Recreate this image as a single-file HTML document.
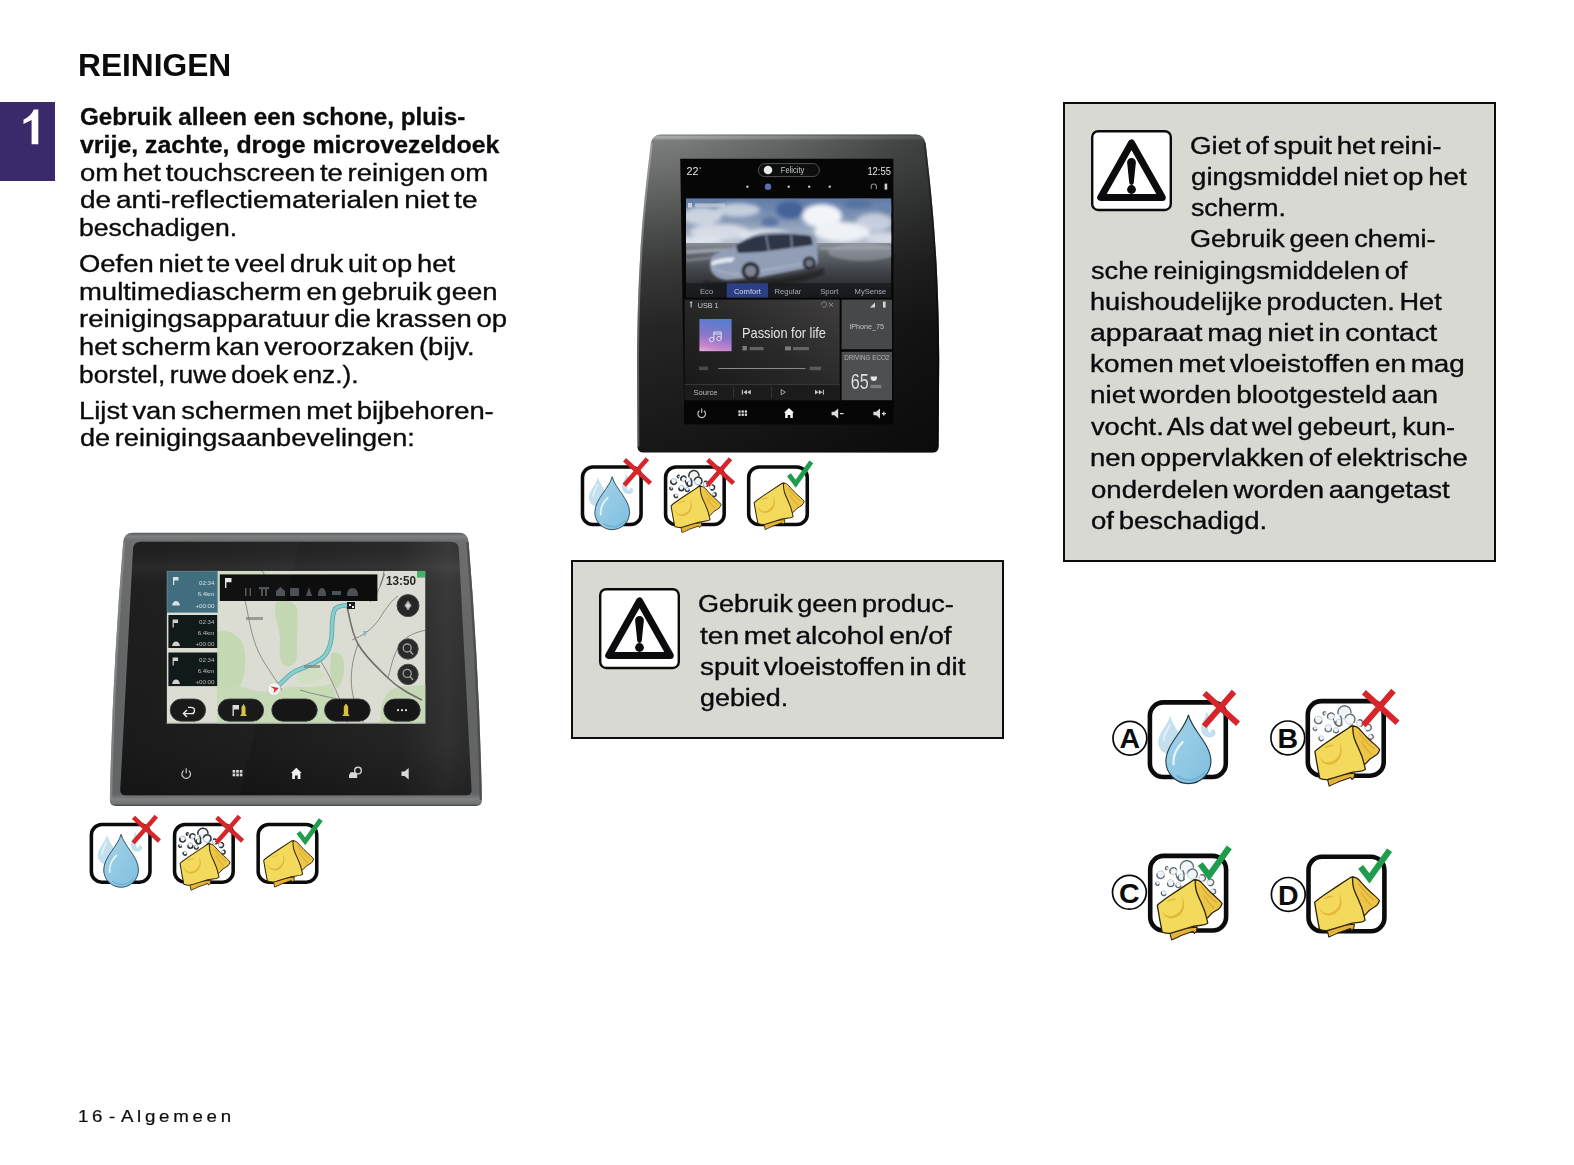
<!DOCTYPE html>
<html lang="nl">
<head>
<meta charset="utf-8">
<title>Reinigen</title>
<style>
html,body{margin:0;padding:0;background:#fff}
body{width:1574px;height:1165px;overflow:hidden;font-family:"Liberation Sans",sans-serif;color:#0b0b0d}
#page{position:relative;width:1574px;height:1165px;background:#fff;overflow:hidden}
.t{position:absolute;white-space:pre;font-size:23.5px;line-height:23.5px;transform-origin:0 0;color:#0b0b0d;-webkit-text-stroke:.35px #0b0b0d;word-spacing:-2.5px}
.t.b{font-weight:bold;word-spacing:0;-webkit-text-stroke:.3px #0b0b0d}
.t.h{word-spacing:0;font-size:31px;line-height:31px;font-weight:bold;-webkit-text-stroke:0}
.tab{position:absolute;left:0;top:102px;width:55px;height:78.5px;background:#3b2a6b}
.box{position:absolute;background:#d8d9d2;border:2px solid #0d0d0d}
.foot{position:absolute;left:77.6px;top:1107px;font-size:17px;line-height:20px;letter-spacing:3.38px;word-spacing:-5.5px;white-space:pre;color:#0b0b0d;transform:scaleX(1.1);transform-origin:0 0;-webkit-text-stroke:.2px #0b0b0d}
svg{position:absolute;left:0;top:0;overflow:visible}

</style>
</head>
<body>
<div id="page">
<div class="tab"><svg width="55" height="79" viewBox="0 102 55 79" aria-label="1"><path d="M33.8 109.6 L38.3 109.6 L38.3 144.2 L31.6 144.2 L31.6 119.9 L23.5 123.9 L23.5 119.8 C28.2 117.6 31.9 114 33.8 109.6 Z" fill="#fff"/></svg></div>
<div class="box" style="left:570.8px;top:560px;width:429.2px;height:175px"></div>
<div class="box" style="left:1063px;top:102px;width:429.3px;height:456px"></div>
<svg width="1574" height="1165" viewBox="0 0 1574 1165">
<defs>
<g id="warn">
<rect x="1.2" y="1.2" width="78.6" height="78.8" rx="6" ry="6" fill="#fff" stroke="#0b0b0d" stroke-width="2.4"/>
<path d="M40.5 13 L9.7 67.5 L71.3 67.5 Z" fill="#fff" stroke="#0b0b0d" stroke-width="7" stroke-linejoin="round"/>
<path d="M36.1 32.3 a4.4 4.4 0 0 1 8.8 0 L42.8 52.6 a2.3 2.3 0 0 1 -4.6 0 Z" fill="#0b0b0d"/>
<circle cx="40.5" cy="59.5" r="4.4" fill="#0b0b0d"/>
</g>
</defs>
<use href="#warn" x="599" y="588"/>
<use href="#warn" x="1091" y="130"/>
</svg>

<div class="t h" style="left:77.96px;top:49.86px;transform:scaleX(1.0221)">REINIGEN</div>
<div class="t b" style="left:80.00px;top:106.01px;transform:scaleX(1.0317)">Gebruik alleen een schone, pluis-</div>
<div class="t b" style="left:80.00px;top:134.01px;transform:scaleX(1.0596)">vrije, zachte, droge microvezeldoek</div>
<div class="t" style="left:80.00px;top:161.91px;transform:scaleX(1.1681)">om het touchscreen te reinigen om</div>
<div class="t" style="left:80.00px;top:189.01px;transform:scaleX(1.1921)">de anti-reflectiematerialen niet te</div>
<div class="t" style="left:78.87px;top:217.01px;transform:scaleX(1.1306)">beschadigen.</div>
<div class="t" style="left:78.83px;top:253.21px;transform:scaleX(1.1672)">Oefen niet te veel druk uit op het</div>
<div class="t" style="left:78.83px;top:280.51px;transform:scaleX(1.1680)">multimediascherm en gebruik geen</div>
<div class="t" style="left:78.83px;top:308.31px;transform:scaleX(1.1691)">reinigingsapparatuur die krassen op</div>
<div class="t" style="left:78.84px;top:336.01px;transform:scaleX(1.1600)">het scherm kan veroorzaken (bijv.</div>
<div class="t" style="left:78.88px;top:363.81px;transform:scaleX(1.1193)">borstel, ruwe doek enz.).</div>
<div class="t" style="left:78.83px;top:399.51px;transform:scaleX(1.1659)">Lijst van schermen met bijbehoren-</div>
<div class="t" style="left:80.00px;top:427.01px;transform:scaleX(1.1537)">de reinigingsaanbevelingen:</div>
<div class="t" style="left:698.35px;top:593.21px;transform:scaleX(1.1502)">Gebruik geen produc-</div>
<div class="t" style="left:699.50px;top:624.51px;transform:scaleX(1.1940)">ten met alcohol en/of</div>
<div class="t" style="left:699.50px;top:655.81px;transform:scaleX(1.1892)">spuit vloeistoffen in dit</div>
<div class="t" style="left:699.50px;top:687.21px;transform:scaleX(1.1433)">gebied.</div>
<div class="t" style="left:1190.02px;top:135.01px;transform:scaleX(1.1790)">Giet of spuit het reini-</div>
<div class="t" style="left:1191.20px;top:166.21px;transform:scaleX(1.1770)">gingsmiddel niet op het</div>
<div class="t" style="left:1191.20px;top:197.41px;transform:scaleX(1.1348)">scherm.</div>
<div class="t" style="left:1190.05px;top:228.41px;transform:scaleX(1.1519)">Gebruik geen chemi-</div>
<div class="t" style="left:1090.90px;top:259.61px;transform:scaleX(1.1578)">sche reinigingsmiddelen of</div>
<div class="t" style="left:1089.75px;top:290.81px;transform:scaleX(1.1546)">huishoudelijke producten. Het</div>
<div class="t" style="left:1089.69px;top:322.01px;transform:scaleX(1.2111)">apparaat mag niet in contact</div>
<div class="t" style="left:1089.71px;top:352.81px;transform:scaleX(1.1858)">komen met vloeistoffen en mag</div>
<div class="t" style="left:1089.71px;top:384.41px;transform:scaleX(1.1879)">niet worden blootgesteld aan</div>
<div class="t" style="left:1090.90px;top:415.91px;transform:scaleX(1.1595)">vocht. Als dat wel gebeurt, kun-</div>
<div class="t" style="left:1089.73px;top:447.11px;transform:scaleX(1.1695)">nen oppervlakken of elektrische</div>
<div class="t" style="left:1090.90px;top:478.51px;transform:scaleX(1.1725)">onderdelen worden aangetast</div>
<div class="t" style="left:1090.90px;top:509.81px;transform:scaleX(1.1711)">of beschadigd.</div>
<div class="foot">16 - Algemeen</div>
<svg width="1574" height="1165" viewBox="0 0 1574 1165">
<defs>
<linearGradient id="d1f" x1="0" y1="0" x2="0" y2="1">
<stop offset="0" stop-color="#58595a"/><stop offset=".012" stop-color="#7e8081"/><stop offset=".03" stop-color="#6c6e6f"/>
<stop offset=".5" stop-color="#626465"/><stop offset=".955" stop-color="#626465"/><stop offset=".975" stop-color="#7e8081"/><stop offset=".992" stop-color="#707273"/><stop offset="1" stop-color="#404142"/>
</linearGradient>
<linearGradient id="d1p" x1="0" y1="0" x2="1" y2="0">
<stop offset="0" stop-color="#1b1a1a"/><stop offset=".35" stop-color="#201f1f"/><stop offset=".8" stop-color="#2b2a2a"/><stop offset=".93" stop-color="#3a3939"/><stop offset="1" stop-color="#333232"/>
</linearGradient>
<linearGradient id="d1pv" x1="0" y1="0" x2="0" y2="1">
<stop offset="0" stop-color="#000" stop-opacity=".0"/><stop offset=".1" stop-color="#fff" stop-opacity=".05"/><stop offset=".2" stop-color="#000" stop-opacity="0"/><stop offset=".8" stop-color="#000" stop-opacity=".15"/><stop offset="1" stop-color="#000" stop-opacity=".35"/>
</linearGradient>
<clipPath id="d1s"><rect x="167" y="571" width="258.4" height="152.4"/></clipPath>
<filter id="bl1" x="-5%" y="-5%" width="110%" height="110%"><feGaussianBlur stdDeviation=".55"/></filter>
<filter id="bl2" x="-5%" y="-5%" width="110%" height="110%"><feGaussianBlur stdDeviation="1.6"/></filter>
</defs>
<!-- frame -->
<path d="M133 532.800 L458.800 532.800 Q467.900 532.800 468.600 542 Q479.300 671 481.900 800 Q482.200 806 476.100 806 L115.700 806 Q109.600 806 109.900 800 Q112.500 671 123.200 542 Q123.900 532.800 133 532.800 Z" fill="url(#d1f)"/>
<path d="M123.200 542 Q112.500 671 109.900 800 L112.200 800 Q114.800 671 125.500 542 Z" fill="#8c8e8f" opacity=".7"/>
<path d="M468.600 542 Q479.300 671 481.900 800 L479.600 800 Q477 671 466.300 542 Z" fill="#474849" opacity=".8"/>
<!-- dark panel -->
<path d="M141 541.800 L450.800 541.800 Q458.300 541.800 458.800 549 L471.500 790 Q471.700 795.300 466.200 795.300 L125.600 795.300 Q120.100 795.300 120.300 790 L133 549 Q133.500 541.800 141 541.800 Z" fill="url(#d1p)"/>
<path d="M141 541.800 L450.800 541.800 Q458.300 541.800 458.800 549 L471.500 790 Q471.700 795.300 466.200 795.300 L125.600 795.300 Q120.100 795.300 120.300 790 L133 549 Q133.500 541.800 141 541.800 Z" fill="url(#d1pv)"/>
<!-- screen -->
<rect x="166.600" y="570.800" width="258.800" height="153" fill="#5b5d5c"/>
<g clip-path="url(#d1s)" filter="url(#bl1)">
<rect x="167" y="571" width="258.4" height="152.4" fill="#dcddd2"/>
<!-- green areas -->
<path d="M276 603 C283 598 293 601 297 608 C299 622 296 640 297 652 C298 662 292 668 286 666 C279 664 279 650 280 640 C280 626 272 612 276 603 Z" fill="#c3d8b2"/>
<path d="M217 632 C226 628 238 634 243 644 C247 658 246 674 240 686 L217 690 Z" fill="#c3d8b2"/>
<path d="M217 690 L240 686 C252 690 262 694 275 690 C290 684 310 690 330 684 C336 690 338 700 336 724 L217 724 Z" fill="#c6dab6"/>
<path d="M331 654 C337 650 343 654 344 662 C345 672 343 682 338 688 C332 686 330 676 330 668 Z" fill="#c3d8b2"/>
<path d="M300 668 C310 664 322 668 324 676 C318 684 306 686 298 682 Z" fill="#cfdfc2"/>
<path d="M390 690 C400 684 414 688 426 684 L426 724 L380 724 C380 710 382 698 390 690 Z" fill="#c6d8b6"/>
<path d="M217 571 L270 571 C268 580 262 590 250 596 C238 600 226 598 217 602 Z" fill="#cfdcc0"/>
<!-- roads -->
<g fill="none" stroke="#8b8c88" stroke-width="1">
<path d="M244 596 C248 612 250 630 256 646 C262 662 274 676 282 690"/>
<path d="M347 606 C350 620 352 634 358 644 C366 658 378 668 388 678 C398 688 410 694 422 700" stroke="#6f706d" stroke-width="1.6"/>
<path d="M352 640 C362 636 372 630 380 618 C386 608 392 600 398 596"/>
<path d="M388 678 C392 664 394 650 404 640 C410 634 418 632 426 630"/>
<path d="M320 660 C328 672 334 686 340 700 C344 710 346 718 348 724"/>
<path d="M358 644 C352 660 350 676 352 690 C354 704 360 714 364 724"/>
<path d="M262 571 C268 580 276 588 288 592 C300 596 320 594 334 598"/>
<path d="M384 571 C382 584 378 594 370 602"/>
<path d="M300 690 C312 694 326 696 340 700"/>
</g>
<!-- route -->
<path d="M276 688 C282 682 286 678 291 674 C297 669 302 669 308 666 C316 662 322 660 326 654 C331 646 332 638 332 630 C332 622 332 614 335 609 C339 605 344 606 349 605" fill="none" stroke="#5aa4aa" stroke-width="4.6" stroke-linecap="round"/>
<path d="M276 688 C282 682 286 678 291 674 C297 669 302 669 308 666 C316 662 322 660 326 654 C331 646 332 638 332 630 C332 622 332 614 335 609 C339 605 344 606 349 605" fill="none" stroke="#86cfd0" stroke-width="3" stroke-linecap="round"/>
<!-- flag / markers -->
<rect x="347" y="602" width="8" height="7" fill="#1a1a1a"/><rect x="349" y="604" width="2" height="2" fill="#eee"/><rect x="352" y="606" width="2" height="2" fill="#eee"/>
<path d="M363 631 l4 0 l-2 6 z" fill="#7fb6d8"/>
<circle cx="274" cy="689" r="6.4" fill="#f4f4f2" stroke="#c8c8c4" stroke-width=".8"/>
<path d="M270.3 686.2 L278.8 688 L273.6 693.2 L274.2 689.2 Z" fill="#d6323a"/>
<!-- map labels -->
<rect x="246" y="617" width="17" height="3" fill="#7d7e7a" opacity=".7"/>
<rect x="304" y="665" width="16" height="3" fill="#7d7e7a" opacity=".7"/>
<!-- left panels -->
<rect x="167" y="571" width="50.6" height="41.6" fill="#3c6c7c"/>
<rect x="167" y="571" width="50.6" height="41.6" fill="none" stroke="#6e9aa6" stroke-width=".8"/>
<rect x="168.4" y="615" width="48.8" height="33" fill="#111212"/>
<rect x="168.4" y="652.5" width="48.8" height="33.6" fill="#111212"/>
<g fill="#cfe0e4" font-family="Liberation Sans, sans-serif" font-size="6.2" text-anchor="end">
<text x="214.5" y="584.6">02:34</text><text x="214.5" y="596">6.4km</text><text x="214.5" y="607.5">+00:00</text>
</g>
<g fill="#b9bcbc" font-family="Liberation Sans, sans-serif" font-size="6.2" text-anchor="end">
<text x="214.5" y="623.8">02:34</text><text x="214.5" y="635">6.4km</text><text x="214.5" y="646">+00:00</text>
<text x="214.5" y="661.5">02:34</text><text x="214.5" y="672.6">6.4km</text><text x="214.5" y="684">+00:00</text>
</g>
<g fill="#d5e2e6"><path d="M173 577 h5.5 v3.6 h-4.3 v4.4 h-1.2 z"/><path d="M172 605.5 q1 -4.4 4 -4.4 q3 0 4 4.4 z"/></g>
<g fill="#cfcfcf"><path d="M172.6 619.5 h5.5 v3.6 h-4.3 v4.4 h-1.2 z"/><path d="M172 646 q1 -4.4 4 -4.4 q3 0 4 4.4 z"/>
<path d="M172.6 657.5 h5.5 v3.6 h-4.3 v4.4 h-1.2 z"/><path d="M172 684 q1 -4.4 4 -4.4 q3 0 4 4.4 z"/></g>
<!-- top dark bar -->
<rect x="219.8" y="574.4" width="157.6" height="26.6" fill="#0b0b0c"/>
<path d="M225 578 h6.5 v4.2 h-5.1 v5.8 h-1.4 z" fill="#e8e8e8"/>
<g fill="#4b5157"><rect x="245" y="588" width="1.6" height="8"/><rect x="249.5" y="588" width="1.6" height="8"/><rect x="259" y="587" width="10" height="2.4"/><rect x="261" y="589" width="2" height="7"/><rect x="265" y="589" width="2" height="7"/>
<path d="M276 596 v-5 l4.5 -4 l4.5 4 v5 z"/><rect x="290" y="588" width="9" height="8" rx="1"/><path d="M306 596 l3 -9 l3 9 z"/><path d="M318 596 q0 -8 4 -8 q4 0 4 8 z"/><rect x="332" y="591" width="9" height="4"/><path d="M347 596 q0 -8 5.5 -8 q5.500 0 5.500 8 z"/></g>
<!-- time -->
<path d="M380 586 L384.5 574" stroke="#77787a" stroke-width="1.2"/>
<text x="386" y="585.2" font-family="Liberation Sans, sans-serif" font-size="12" font-weight="bold" fill="#262728" textLength="30" lengthAdjust="spacingAndGlyphs">13:50</text>
<rect x="417" y="571" width="8.4" height="6.6" fill="#49b06c"/>
<!-- round buttons -->
<g><circle cx="408" cy="605.6" r="11" fill="#252626"/><circle cx="408" cy="605.6" r="11" fill="none" stroke="#48494a" stroke-width="1"/><path d="M408 600.600 L411.600 605.6 L408 610.600 L404.400 605.6 Z" fill="#a9abab"/><circle cx="408" cy="605.6" r="1.6" fill="#e8e8e8"/>
<circle cx="408" cy="649" r="10.2" fill="#2a2b2b" stroke="#4a4b4c" stroke-width="1"/><circle cx="407.200" cy="648" r="4" fill="none" stroke="#9fa1a1" stroke-width="1.3"/><path d="M410 651 L413 654.500" stroke="#9fa1a1" stroke-width="1.5"/>
<circle cx="408" cy="674.4" r="10.2" fill="#2a2b2b" stroke="#4a4b4c" stroke-width="1"/><circle cx="407.200" cy="673.4" r="4" fill="none" stroke="#9fa1a1" stroke-width="1.3"/><path d="M410 676.4 L413 679.900" stroke="#9fa1a1" stroke-width="1.5"/></g>
<!-- bottom pills -->
<g fill="#121313" stroke="#3d3e3f" stroke-width=".9">
<rect x="170.2" y="699" width="35.4" height="22.2" rx="11.1"/><rect x="218" y="699" width="45.600" height="22.2" rx="11.1"/><rect x="271.8" y="699" width="45.400" height="22.2" rx="11.1"/><rect x="324.6" y="699" width="45.600" height="22.2" rx="11.1"/><rect x="383.8" y="699" width="36.4" height="22.2" rx="11.1"/>
</g>
<path d="M194 713.6 h-10 M187 710 l-3.600 3.600 l3.600 3.400 M184 713.6 h7 q3.500 0 3.500 -3.200 q0 -3 -3.500 -3 h-3" fill="none" stroke="#e9e9e9" stroke-width="1.4"/>
<path d="M232.500 705 h6.500 v4.600 h-5.100 v6.400 h-1.400 z" fill="#d9d9d9"/><path d="M243.500 704 l2 3 v7 l1.500 2 h-7 l1.500 -2 v-7 z" fill="#d9c23a"/>
<path d="M346 703.500 l2.200 3 v7.500 l1.600 2 h-7.600 l1.600 -2 v-7.500 z" fill="#d9c23a"/>
<g fill="#e6e6e6"><circle cx="398" cy="710.2" r="1.1"/><circle cx="402" cy="710.2" r="1.1"/><circle cx="406" cy="710.2" r="1.1"/></g>
</g>
<rect x="166.600" y="722.600" width="258.800" height="1.200" fill="#a8aaa8" opacity=".8"/>
<!-- glare -->
<path d="M139 541.8 L300 541.8 L240 795 L125.5 795.3 Q120 795.3 120.2 790 L131 549 Q131.5 541.8 139 541.8 Z" fill="#fff" opacity=".018"/>
<!-- bottom icons -->
<g filter="url(#bl1)">
<g fill="none" stroke="#cfcfcf" stroke-width="1.15"><path d="M183.600 770.600 A4.300 4.300 0 1 0 188.800 770.600"/><path d="M186.200 768.200 V773.200"/></g>
<g fill="#d8d8d8"><rect x="232.600" y="770" width="2.600" height="2.700"/><rect x="236.200" y="770" width="2.600" height="2.700"/><rect x="239.800" y="770" width="2.600" height="2.700"/><rect x="232.600" y="773.600" width="2.600" height="2.700"/><rect x="236.200" y="773.600" width="2.600" height="2.700"/><rect x="239.800" y="773.600" width="2.600" height="2.700"/>
<path d="M296.300 767.800 L301.700 773 L300.400 773 L300.400 779 L297.700 779 L297.700 775.600 L294.900 775.600 L294.900 779 L292.200 779 L292.200 773 L290.900 773 Z" fill="#f2f2f2"/>
<path d="M349 778 v-3.200 l1.600 -2.600 h5 l1.600 2.600 v3.200 z"/><circle cx="358" cy="770.600" r="3.300" fill="none" stroke="#d0d0d0" stroke-width="1.400"/>
<path d="M401.500 771.500 h3 l4.200 -3.500 v11.400 l-4.200 -3.500 h-3 z"/></g>
</g>
</svg>

<svg width="1574" height="1165" viewBox="0 0 1574 1165">
<defs>
<linearGradient id="d2v" x1="0" y1="0" x2="0" y2="1">
<stop offset="0" stop-color="#767878"/><stop offset=".008" stop-color="#b4b6b6"/><stop offset=".02" stop-color="#7e8080"/><stop offset=".09" stop-color="#737575"/>
<stop offset=".2" stop-color="#5f6161"/><stop offset=".3" stop-color="#4c4d4d"/><stop offset=".42" stop-color="#393939"/><stop offset=".6" stop-color="#272626"/><stop offset="1" stop-color="#171616"/>
</linearGradient>
<linearGradient id="d2h" x1="0" y1="0" x2="1" y2="0">
<stop offset="0" stop-color="#000" stop-opacity="0"/><stop offset=".15" stop-color="#000" stop-opacity=".04"/><stop offset=".5" stop-color="#000" stop-opacity=".22"/><stop offset=".86" stop-color="#000" stop-opacity=".46"/><stop offset="1" stop-color="#000" stop-opacity=".52"/>
</linearGradient>
<linearGradient id="sky" x1="0" y1="0" x2="0" y2="1">
<stop offset="0" stop-color="#5d7aa6"/><stop offset=".5" stop-color="#8799b6"/><stop offset="1" stop-color="#b9c2cf"/>
</linearGradient>
<linearGradient id="gnd" x1="0" y1="0" x2="0" y2="1">
<stop offset="0" stop-color="#8a909a"/><stop offset=".15" stop-color="#676c75"/><stop offset=".5" stop-color="#41444a"/><stop offset="1" stop-color="#1c1d20"/>
</linearGradient>
<linearGradient id="art" x1=".35" y1="0" x2=".15" y2="1">
<stop offset="0" stop-color="#5a7ccf"/><stop offset=".5" stop-color="#8a76c8"/><stop offset=".85" stop-color="#c888cc"/><stop offset="1" stop-color="#e2aad6"/>
</linearGradient>
<linearGradient id="med" x1="1" y1="0" x2="0" y2="1">
<stop offset="0" stop-color="#403e3e"/><stop offset=".45" stop-color="#2a2929"/><stop offset="1" stop-color="#161616"/>
</linearGradient>
<clipPath id="ph"><rect x="686" y="198.2" width="205.4" height="99.4"/></clipPath>
<filter id="b2" x="-5%" y="-5%" width="110%" height="110%"><feGaussianBlur stdDeviation=".5"/></filter>
<filter id="b3" x="-10%" y="-10%" width="120%" height="120%"><feGaussianBlur stdDeviation="2.2"/></filter>
<filter id="b4" x="-10%" y="-10%" width="120%" height="120%"><feGaussianBlur stdDeviation=".9"/></filter>
</defs>
<!-- body -->
<path id="d2b" d="M661 134.4 L915.6 134.4 Q924 134.4 925.600 143 C931 190 938.600 250 939.200 360 L938.600 446.500 Q938.600 452.600 932.400 452.600 L643.600 452.600 Q637.400 452.600 637.400 446.500 L637 360 C637.600 250 645.400 190 650.800 143 Q652.400 134.400 661 134.400 Z" fill="url(#d2v)"/>
<path d="M661 134.4 L915.6 134.4 Q924 134.4 925.600 143 C931 190 938.600 250 939.200 360 L938.600 446.500 Q938.600 452.600 932.400 452.600 L643.600 452.600 Q637.400 452.600 637.400 446.500 L637 360 C637.600 250 645.400 190 650.800 143 Q652.400 134.400 661 134.400 Z" fill="url(#d2h)"/>
<path d="M650.800 143 C645.400 190 637.600 250 637 360 L637.400 446.500 L639.400 446.500 L639 360 C639.600 250 647.400 190 652.800 143 Z" fill="#fff" opacity=".28"/>
<path d="M925.600 143 C931 190 938.600 250 939.200 360 L938.600 446.500 L936.800 446.500 L937.400 360 C936.800 250 929.200 190 923.800 143 Z" fill="#000" opacity=".35"/>
<!-- screen -->
<path d="M680.200 158.800 L893.400 158.800 L893.400 424.200 L684.400 424.200 Z" fill="#060606"/>
<g filter="url(#b2)">
<!-- status bar -->
<text x="686.600" y="175" font-family="Liberation Sans, sans-serif" font-size="11.500" fill="#e4e4e4" textLength="12" lengthAdjust="spacingAndGlyphs">22</text><text x="699" y="171" font-family="Liberation Sans, sans-serif" font-size="6" fill="#d0d0d0">°</text>
<rect x="758.400" y="163.600" width="61" height="13" rx="6.500" fill="#0c0c0d" stroke="#505254" stroke-width="1"/>
<circle cx="768" cy="170" r="4.300" fill="#e9e9e9"/>
<text x="780.800" y="173.400" font-family="Liberation Sans, sans-serif" font-size="9" fill="#c9c9c9" textLength="23.500" lengthAdjust="spacingAndGlyphs">Felicity</text>
<text x="867.400" y="174.800" font-family="Liberation Sans, sans-serif" font-size="11.500" fill="#e4e4e4" textLength="23.500" lengthAdjust="spacingAndGlyphs">12:55</text>
<g fill="#e0e0e0"><rect x="746.400" y="185.700" width="2" height="2"/><rect x="787.700" y="185.700" width="2" height="2"/><rect x="808.200" y="185.700" width="2" height="2"/><rect x="828.700" y="185.700" width="2" height="2"/></g>
<circle cx="768" cy="186.700" r="3.200" fill="#5a6cae"/>
<path d="M871.200 189 v-2.400 a2.600 2.600 0 0 1 5.200 0 v2.400" fill="none" stroke="#8a8a8a" stroke-width="1.100"/><rect x="884.600" y="183.600" width="2.600" height="6" fill="#d0d0d0"/>
</g>
<!-- photo -->
<g clip-path="url(#ph)">
<rect x="686" y="198.200" width="205.400" height="46" fill="url(#sky)"/>
<g filter="url(#b3)" fill="#dfe4ec">
<ellipse cx="702" cy="216" rx="20" ry="9" opacity=".8"/><ellipse cx="738" cy="210" rx="22" ry="7" opacity=".75"/><ellipse cx="720" cy="232" rx="30" ry="8" opacity=".85"/><ellipse cx="765" cy="236" rx="26" ry="7" opacity=".9"/>
<ellipse cx="822" cy="216" rx="20" ry="12" fill="#f2f4f8"/><ellipse cx="842" cy="232" rx="28" ry="10" fill="#eef1f6"/><ellipse cx="874" cy="222" rx="18" ry="9" opacity=".7"/><ellipse cx="882" cy="238" rx="16" ry="6" opacity=".8"/><ellipse cx="698" cy="241" rx="24" ry="4"/>
<ellipse cx="790" cy="210" rx="14" ry="9" fill="#44629a"/><ellipse cx="770" cy="222" rx="9" ry="5" fill="#5874a4"/><ellipse cx="858" cy="204" rx="14" ry="4" fill="#55719f"/><ellipse cx="886" cy="208" rx="8" ry="6" fill="#6a84ac"/>
</g>
<rect x="686" y="243" width="205.400" height="55" fill="url(#gnd)"/>
<g filter="url(#b4)">
<path d="M686 250 L730 248 L730 251 L686 254 Z" fill="#b3b8c0" opacity=".7"/><path d="M686 259 L716 256 L716 258.500 L686 262 Z" fill="#9da2aa" opacity=".5"/>
<path d="M820 247 L891 246 L891 249 L820 250 Z" fill="#a4a9b1" opacity=".55"/><ellipse cx="862" cy="252" rx="34" ry="9" fill="#a9aeb6" opacity=".45"/>
<!-- car -->
<path d="M710.500 269 C709.500 262 710.500 257 714 254.500 L736 246 C743 240 752 234.500 764 232.800 C780 231.200 800 231.600 812 234 C816 236 817 240 817.500 246 L818 261 C818 264 816 266 812 266.800 L800 269.500 L762 277 L728 280 C718 279.500 712 275 710.500 269 Z" fill="#919eb6"/><path d="M711 262 C716 258.500 726 257 735 257.500 L732 262 C724 262.500 716 264 711.500 266 Z" fill="#dfe6f0"/>
<path d="M736 246 C744 240 754 236 765 235 C780 233.500 798 234 810 236 C812 238 812.500 241 812.500 245 L790 248 L760 252 L738 253 Z" fill="#2d3444"/>
<path d="M766 235.500 L769 251.500 M791 234.500 L792 248" stroke="#8a96ac" stroke-width="1.300"/>

<path d="M712 268 C720 272 730 274 742 274 L800 264 L816 258" fill="none" stroke="#b9c3d4" stroke-width="1.200" opacity=".8"/>
<circle cx="750.600" cy="271" r="9.200" fill="#26282e"/><circle cx="750.600" cy="271" r="5.600" fill="#7d8494"/>
<circle cx="809.300" cy="263" r="6.600" fill="#26282e"/><circle cx="809.300" cy="263" r="3.800" fill="#6f7686"/>
<path d="M704 281 C730 286 790 280 824 268 L824 274 C790 288 730 292 704 286 Z" fill="#0f1012" opacity=".55"/>
</g>
<rect x="686" y="283" width="205.400" height="15" fill="#16171a" opacity=".72"/>
<rect x="726.800" y="283.200" width="41.200" height="14.800" fill="#2e4189" opacity=".95"/>
<g font-family="Liberation Sans, sans-serif" font-size="7.600" fill="#a9acb3" text-anchor="middle" filter="url(#b2)">
<text x="706.600" y="293.600">Eco</text><text x="747.400" y="293.600" fill="#cdd3ea">Comfort</text><text x="787.900" y="293.600">Regular</text><text x="829.300" y="293.600">Sport</text><text x="870.400" y="293.600">MySense</text>
</g>
<g fill="#c9ced8" filter="url(#b2)"><rect x="688" y="203" width="4" height="4.600"/><rect x="695" y="203.400" width="30" height="4" opacity=".75"/></g>
</g>
<!-- media panel -->
<rect x="684.600" y="299.600" width="155" height="100.600" fill="url(#med)"/>
<rect x="684.600" y="384.600" width="155" height="15.600" fill="#1b1b1b"/>
<rect x="684.600" y="384.200" width="155" height=".8" fill="#3c3c3c"/>
<rect x="841.600" y="299.600" width="50.400" height="49.600" fill="#47484a"/>
<rect x="841.600" y="351.800" width="50.400" height="48.400" fill="#4d4e50"/>
<rect x="699.400" y="319" width="32.200" height="32.200" fill="url(#art)"/>
<g filter="url(#b2)">
<g fill="none" stroke="#dfe0f4" stroke-width="1"><circle cx="711.600" cy="339.600" r="2.200"/><circle cx="719" cy="338.600" r="2.200"/><path d="M713.800 339.600 v-7.600 h7.400 v6.600 M713.800 334 h7.400"/></g>
<text x="742" y="337.600" font-family="Liberation Sans, sans-serif" font-size="14.400" fill="#e2e2e2" textLength="84" lengthAdjust="spacingAndGlyphs">Passion for life</text>
<g fill="#7c7c7c"><rect x="742.500" y="346" width="4.400" height="4.400"/><rect x="749.600" y="347" width="14" height="3.200" opacity=".7"/><rect x="785" y="346.400" width="6" height="4"/><rect x="793" y="347" width="16" height="3.200" opacity=".7"/></g>
<rect x="699" y="366.600" width="9" height="3.600" fill="#555" opacity=".8"/><rect x="718.400" y="368" width="87" height="1" fill="#8a8a8a"/><rect x="809.600" y="366.600" width="11.400" height="3.600" fill="#666" opacity=".8"/>
<text x="693.400" y="395" font-family="Liberation Sans, sans-serif" font-size="7.600" fill="#b9b9b9">Source</text>
<g fill="#c6c6c6"><path d="M747 389.800 l-3.600 2.400 l3.600 2.400 z M750.800 389.800 l-3.600 2.400 l3.600 2.400 z"/><rect x="741.800" y="389.800" width="1.100" height="4.800"/>
<path d="M781.200 389.600 l4.200 2.600 l-4.200 2.600 z" fill="none" stroke="#b0b0b0" stroke-width=".9"/>
<path d="M815 389.800 l3.600 2.400 l-3.600 2.400 z M818.800 389.800 l3.600 2.400 l-3.600 2.400 z"/><rect x="822.800" y="389.800" width="1.100" height="4.800"/></g>
<path d="M733.600 386.600 v12 M771.600 386.600 v12" stroke="#3a3a3a" stroke-width=".8"/>
<!-- usb row -->
<path d="M689.500 303 l1.600 -2 l1.600 2 h-1 v4.600 h-1.200 v-4.600 z" fill="#bdbdbd"/>
<text x="697.800" y="308" font-family="Liberation Sans, sans-serif" font-size="7.200" fill="#c8c8c8">USB 1</text>
<g fill="none" stroke="#8d8d8d" stroke-width="1"><path d="M821.500 304.600 a2.600 2.600 0 1 1 1 2"/><path d="M829 303 l4 3.600 M829 306.600 l4 -3.600"/></g>
<path d="M870 307.600 l5 -5 v5 z" fill="#d6d6d6"/><rect x="883" y="301.600" width="2.600" height="6" fill="#d6d6d6"/>
<text x="866.800" y="329" font-family="Liberation Sans, sans-serif" font-size="7.200" fill="#c4c4c4" text-anchor="middle">iPhone_75</text>
<text x="866.800" y="359.800" font-family="Liberation Sans, sans-serif" font-size="7.600" fill="#b5b5b5" text-anchor="middle" textLength="45" lengthAdjust="spacingAndGlyphs">DRIVING ECO2</text>
<text x="850.800" y="388.900" font-family="Liberation Sans, sans-serif" font-size="22" fill="#dcdcdc" textLength="18" lengthAdjust="spacingAndGlyphs">65</text>
<path d="M870.600 376.400 h6.400 q0 4.600 -3.200 4.600 q-3.200 0 -3.200 -4.600 z" fill="#e6e6e6"/><rect x="870.400" y="384.800" width="11" height="3.400" fill="#8b8b8b" opacity=".8"/>
</g>
<!-- bottom bar -->
<rect x="684.400" y="401.400" width="209" height="22.800" fill="#050505"/>
<g filter="url(#b2)">
<g fill="none" stroke="#c9c9c9" stroke-width="1.100"><path d="M699.400 410.800 A3.800 3.800 0 1 0 704 410.800"/><path d="M701.700 408.600 V413"/></g>
<g fill="#dcdcdc"><rect x="738.400" y="410.400" width="2.200" height="2.300"/><rect x="741.600" y="410.400" width="2.200" height="2.300"/><rect x="744.800" y="410.400" width="2.200" height="2.300"/><rect x="738.400" y="413.600" width="2.200" height="2.300"/><rect x="741.600" y="413.600" width="2.200" height="2.300"/><rect x="744.800" y="413.600" width="2.200" height="2.300"/>
<path d="M789 408 L794 412.800 L792.800 412.800 L792.800 418 L790.300 418 L790.300 415 L787.700 415 L787.700 418 L785.200 418 L785.200 412.800 L784 412.800 Z" fill="#f4f4f4"/>
<path d="M831.600 411.800 h2.800 l3.800 -3.200 v9.800 l-3.800 -3.200 h-2.800 z"/><rect x="840" y="413" width="3.600" height="1.200"/>
<path d="M873.400 411.800 h2.800 l3.800 -3.200 v9.800 l-3.800 -3.200 h-2.800 z"/><rect x="881.800" y="413" width="4" height="1.200"/><rect x="883.200" y="411.600" width="1.200" height="4"/></g>
</g>
</svg>

<svg width="1574" height="1165" viewBox="0 0 1574 1165">
<defs>
<linearGradient id="gdrop" x1="0" y1="0" x2="1" y2="1">
<stop offset="0" stop-color="#a6d3e8"/><stop offset="1" stop-color="#7fbfe0"/>
</linearGradient>
<g id="sq"><rect x="2.3" y="2.3" width="75.9" height="74.6" rx="13.5" ry="13.5" fill="#fff" stroke="#0b0b0d" stroke-width="4.6"/></g>
<g id="drop">
<path d="M22.4 15.4 C24.5 25 34 33 34 42 C34 50 28 54 22.4 54 C16 54 10.5 49 10.5 42 C10.5 33 20.5 25 22.4 15.4 Z" fill="#c4e0ee"/>
<path d="M16 40 C16 34 20 30 22 25" fill="none" stroke="#e4f2f8" stroke-width="2" stroke-linecap="round"/>
<path d="M58.5 11.500 C59 18 52.500 24 53.500 30 C54.500 36 60 38.500 64.500 37 C68.800 35.500 69 30.500 66 29.500 C63 29 62 32 63.500 33.500 C59 32 60.500 26.500 61.500 22 C62.500 17.500 61.500 14 58.500 11.500 Z" fill="#c4e0ee"/>
<path d="M40.8 14.9 C44.5 30 63.3 44 63.3 61 A22.5 22.5 0 0 1 18.3 61 C18.3 44 37.1 30 40.8 14.9 Z" fill="url(#gdrop)" stroke="#1f3a4a" stroke-width="1.1" stroke-linejoin="round"/>
<path d="M26 64 C25 54 30 47 35 42" fill="none" stroke="#e6f4fb" stroke-width="2.2" stroke-linecap="round"/>
<path d="M30 76 C38 82 50 81 57 72" fill="none" stroke="#6aaed0" stroke-width="2" stroke-linecap="round" opacity=".8"/>
</g>
<g id="cloth" stroke-linejoin="round" stroke-linecap="round">
<path d="M22 79.500 L23.700 86.300 C28 84.500 31 83 33.900 81.700 L45.300 77.700 L46.500 79.800 L48.500 77.700 L49.200 73.500 L30 75 Z" fill="#e6b23a" stroke="#2e2408" stroke-width="1.100"/>
<path d="M48.500 26.300 C50.500 26.600 52 27.400 53.400 28.700 C56 31.500 58.800 34.800 61.600 37.700 C64.400 40.400 67 42.800 69.700 45.100 C71.500 46.700 73 48.300 74.200 49.900 C73.600 51.800 72.700 53.500 71.400 54.800 C69.200 56.400 67 57.600 64.800 58.900 C63.200 60.400 61.700 62.100 60.300 63.800 L58.700 64.600 L46 60 L45.500 27 Z" fill="#edc647" stroke="#2e2408" stroke-width="1.200"/>
<path d="M53.500 33 C57 38 62 44 68.500 49 M56 42 C59 47 62 51 66 54.500" fill="none" stroke="#d9a92e" stroke-width="1.300" opacity=".85"/>
<path d="M9.400 51.600 C12.600 48.600 16.300 46 20 43.400 L32.200 35.300 L45.300 26.700 C46.300 26.100 47.500 26.100 48.500 26.300 C47.200 26.800 47.200 27.400 47.300 27.900 C47.300 31.200 47.700 34.500 48.500 37.700 C49.600 41.100 51 44.300 52.600 47.500 L56.700 57.300 C57.500 59.700 58.100 62.100 58.700 64.600 L59.900 69.500 C58.900 70.300 57.800 70.800 56.700 71.100 C52.900 71.800 49.100 72.200 45.300 72.800 L32.200 76.800 C29 77.900 25.700 78.900 22.400 79.700 C19.600 79.900 16.900 79.500 14.300 78.500 C12.400 69.600 10.800 60.600 9.400 51.600 Z" fill="#f4da5c" stroke="#2e2408" stroke-width="1.300"/>
<path d="M13.900 55.600 C15.500 61 20.500 63.500 25 62.200 C30.500 60.500 34.500 56 34.700 50.500 C34.800 47.500 34.400 45 33.900 42.600 C36.600 47.500 37.400 53 34.600 58 C31.500 63.500 25.500 66 20.500 64.300 C16.500 62.800 14.200 59.500 13.900 55.600 Z" fill="#e3b938" stroke="none"/>
<path d="M20 47.500 C22.500 46 25 45.500 27 45.700" fill="none" stroke="#e3b938" stroke-width="1.400"/>
</g>
<g id="bub">
<circle cx="12.8" cy="21.1" r="3.8" fill="#f1f5f7" stroke="#bccad0" stroke-width=".9"/>
<circle cx="9.6" cy="29.8" r="1.9" fill="#f1f5f7" stroke="#bccad0" stroke-width=".9"/>
<circle cx="15.8" cy="39.5" r="2.5" fill="#f1f5f7" stroke="#bccad0" stroke-width=".9"/>
<circle cx="22.8" cy="29.2" r="3.2" fill="#f1f5f7" stroke="#bccad0" stroke-width=".9"/>
<circle cx="25.5" cy="17.5" r="3.6" fill="#f1f5f7" stroke="#bccad0" stroke-width=".9"/>
<circle cx="39" cy="13.6" r="6.6" fill="#f1f5f7" stroke="#bccad0" stroke-width=".9"/>
<circle cx="44.5" cy="20.5" r="5" fill="#f1f5f7" stroke="#bccad0" stroke-width=".9"/>
<circle cx="33.6" cy="23.8" r="3.4" fill="#f1f5f7" stroke="#bccad0" stroke-width=".9"/>
<circle cx="30.5" cy="31.5" r="2.6" fill="#f1f5f7" stroke="#bccad0" stroke-width=".9"/>
<circle cx="54.2" cy="24.4" r="3.4" fill="#f1f5f7" stroke="#bccad0" stroke-width=".9"/>
<circle cx="62.3" cy="28.7" r="3.3" fill="#f1f5f7" stroke="#bccad0" stroke-width=".9"/>
<circle cx="65.2" cy="37.9" r="2.5" fill="#f1f5f7" stroke="#bccad0" stroke-width=".9"/>
<circle cx="19" cy="14.5" r="1.6" fill="#f1f5f7" stroke="#bccad0" stroke-width=".9"/>
<path d="M16.4 22.4 A3.8 3.8 0 0 1 9.1 20.4" fill="none" stroke="#5d696f" stroke-width="1.25" stroke-linecap="round"/>
<path d="M11.2 30.8 A1.9 1.9 0 0 1 7.8 29.2" fill="none" stroke="#5d696f" stroke-width="1.25" stroke-linecap="round"/>
<path d="M17.7 41.1 A2.5 2.5 0 0 1 13.5 38.6" fill="none" stroke="#5d696f" stroke-width="1.25" stroke-linecap="round"/>
<path d="M26.0 29.8 A3.2 3.2 0 0 1 19.6 29.8" fill="none" stroke="#5d696f" stroke-width="1.25" stroke-linecap="round"/>
<path d="M22.4 19.3 A3.6 3.6 0 0 1 28.6 15.7" fill="none" stroke="#5d696f" stroke-width="1.25" stroke-linecap="round"/>
<path d="M32.5 14.7 A6.6 6.6 0 1 1 45.6 13.6" fill="none" stroke="#5d696f" stroke-width="1.25" stroke-linecap="round"/>
<path d="M39.8 18.8 A5 5 0 1 1 48.3 23.7" fill="none" stroke="#5d696f" stroke-width="1.25" stroke-linecap="round"/>
<path d="M36.5 25.5 A3.4 3.4 0 0 1 30.4 22.6" fill="none" stroke="#5d696f" stroke-width="1.25" stroke-linecap="round"/>
<path d="M32.9 32.4 A2.6 2.6 0 0 1 27.9 32.0" fill="none" stroke="#5d696f" stroke-width="1.25" stroke-linecap="round"/>
<path d="M53.0 21.2 A3.4 3.4 0 0 1 55.9 27.3" fill="none" stroke="#5d696f" stroke-width="1.25" stroke-linecap="round"/>
<path d="M62.9 25.5 A3.3 3.3 0 1 1 61.2 31.8" fill="none" stroke="#5d696f" stroke-width="1.25" stroke-linecap="round"/>
<path d="M66.1 35.6 A2.5 2.5 0 1 1 64.0 40.1" fill="none" stroke="#5d696f" stroke-width="1.25" stroke-linecap="round"/>
<path d="M18.7 16.1 A1.6 1.6 0 1 1 19.8 13.1" fill="none" stroke="#5d696f" stroke-width="1.25" stroke-linecap="round"/>
<path d="M28 20 C28.5 24 30 26.5 32.5 27.5 M35 17 C36.5 20 36.5 23 35.500 25.500 M47 26 C45 27 43 29 42.500 31.500" fill="none" stroke="#5d696f" stroke-width="1.1" stroke-linecap="round"/>
</g>
<g id="bubd">
<circle cx="12.8" cy="21.1" r="3.8" fill="#f1f5f7" stroke="#9fb0b8" stroke-width="1.1"/>
<circle cx="9.6" cy="29.8" r="1.9" fill="#f1f5f7" stroke="#9fb0b8" stroke-width="1.1"/>
<circle cx="15.8" cy="39.5" r="2.5" fill="#f1f5f7" stroke="#9fb0b8" stroke-width="1.1"/>
<circle cx="22.8" cy="29.2" r="3.2" fill="#f1f5f7" stroke="#9fb0b8" stroke-width="1.1"/>
<circle cx="25.5" cy="17.5" r="3.6" fill="#f1f5f7" stroke="#9fb0b8" stroke-width="1.1"/>
<circle cx="39" cy="13.6" r="6.6" fill="#f1f5f7" stroke="#9fb0b8" stroke-width="1.1"/>
<circle cx="44.5" cy="20.5" r="5" fill="#f1f5f7" stroke="#9fb0b8" stroke-width="1.1"/>
<circle cx="33.6" cy="23.8" r="3.4" fill="#f1f5f7" stroke="#9fb0b8" stroke-width="1.1"/>
<circle cx="30.5" cy="31.5" r="2.6" fill="#f1f5f7" stroke="#9fb0b8" stroke-width="1.1"/>
<circle cx="54.2" cy="24.4" r="3.4" fill="#f1f5f7" stroke="#9fb0b8" stroke-width="1.1"/>
<circle cx="62.3" cy="28.7" r="3.3" fill="#f1f5f7" stroke="#9fb0b8" stroke-width="1.1"/>
<circle cx="65.2" cy="37.9" r="2.5" fill="#f1f5f7" stroke="#9fb0b8" stroke-width="1.1"/>
<circle cx="19" cy="14.5" r="1.6" fill="#f1f5f7" stroke="#9fb0b8" stroke-width="1.1"/>
<path d="M16.4 22.4 A3.8 3.8 0 0 1 9.1 20.4" fill="none" stroke="#2f3538" stroke-width="1.9" stroke-linecap="round"/>
<path d="M11.2 30.8 A1.9 1.9 0 0 1 7.8 29.2" fill="none" stroke="#2f3538" stroke-width="1.9" stroke-linecap="round"/>
<path d="M17.7 41.1 A2.5 2.5 0 0 1 13.5 38.6" fill="none" stroke="#2f3538" stroke-width="1.9" stroke-linecap="round"/>
<path d="M26.0 29.8 A3.2 3.2 0 0 1 19.6 29.8" fill="none" stroke="#2f3538" stroke-width="1.9" stroke-linecap="round"/>
<path d="M22.4 19.3 A3.6 3.6 0 0 1 28.6 15.7" fill="none" stroke="#2f3538" stroke-width="1.9" stroke-linecap="round"/>
<path d="M32.5 14.7 A6.6 6.6 0 1 1 45.6 13.6" fill="none" stroke="#2f3538" stroke-width="1.9" stroke-linecap="round"/>
<path d="M39.8 18.8 A5 5 0 1 1 48.3 23.7" fill="none" stroke="#2f3538" stroke-width="1.9" stroke-linecap="round"/>
<path d="M36.5 25.5 A3.4 3.4 0 0 1 30.4 22.6" fill="none" stroke="#2f3538" stroke-width="1.9" stroke-linecap="round"/>
<path d="M32.9 32.4 A2.6 2.6 0 0 1 27.9 32.0" fill="none" stroke="#2f3538" stroke-width="1.9" stroke-linecap="round"/>
<path d="M53.0 21.2 A3.4 3.4 0 0 1 55.9 27.3" fill="none" stroke="#2f3538" stroke-width="1.9" stroke-linecap="round"/>
<path d="M62.9 25.5 A3.3 3.3 0 1 1 61.2 31.8" fill="none" stroke="#2f3538" stroke-width="1.9" stroke-linecap="round"/>
<path d="M66.1 35.6 A2.5 2.5 0 1 1 64.0 40.1" fill="none" stroke="#2f3538" stroke-width="1.9" stroke-linecap="round"/>
<path d="M18.7 16.1 A1.6 1.6 0 1 1 19.8 13.1" fill="none" stroke="#2f3538" stroke-width="1.9" stroke-linecap="round"/>
<path d="M28 20 C28.5 24 30 26.5 32.5 27.5 M35 17 C36.5 20 36.5 23 35.500 25.500 M47 26 C45 27 43 29 42.500 31.500" fill="none" stroke="#2f3538" stroke-width="1.7" stroke-linecap="round"/>
</g>
<g id="xm"><path d="M56.8 -7 L90.4 23.6 M86.4 -8.4 L56.4 26" fill="none" stroke="#d7252c" stroke-width="5.9" stroke-linecap="butt"/></g>
<g id="ck"><path d="M52.4 10.4 L61.2 22 L81.4 -6.2" fill="none" stroke="#1f9d4c" stroke-width="6.2" stroke-linecap="butt" stroke-linejoin="miter"/></g>
<g id="lbl"><circle cx="0" cy="0" r="16.9" fill="#fff" stroke="#0b0b0d" stroke-width="1.7"/></g>
</defs>
<!-- big icons -->
<g transform="translate(1147.6 700.1)"><use href="#sq"/><use href="#drop"/><use href="#xm"/></g>
<g transform="translate(1305.5 698.8)"><use href="#sq"/><use href="#bub"/><use href="#cloth" y="1"/><use href="#xm" x="1.6" y=".4"/></g>
<g transform="translate(1147.9 853.6)"><use href="#sq"/><use href="#bub"/><use href="#cloth"/><use href="#ck"/></g>
<g transform="translate(1306.2 854.4)"><use href="#sq"/><use href="#cloth" y="-3.6" x="-1"/><use href="#ck" x="2" y="2"/></g>
<g font-family="Liberation Sans, sans-serif" font-weight="bold" font-size="28.5" text-anchor="middle" fill="#0b0b0d">
<use href="#lbl" x="1129.9" y="738.2"/><text x="1129.9" y="748.4">A</text>
<use href="#lbl" x="1287.8" y="737.9"/><text x="1287.8" y="748.1">B</text>
<use href="#lbl" x="1129.4" y="892.3"/><text x="1129.4" y="902.5">C</text>
<use href="#lbl" x="1288.3" y="894.4"/><text x="1288.3" y="904.6">D</text>
</g>
<!-- small icons under device 1 -->
<g transform="translate(89.6 822.8) scale(.772)"><use href="#sq"/><use href="#drop"/><use href="#xm"/></g>
<g transform="translate(172.8 822.8) scale(.772)"><use href="#sq"/><use href="#bubd"/><use href="#cloth" y="1"/><use href="#xm"/></g>
<g transform="translate(256.4 822.8) scale(.772)"><use href="#sq"/><use href="#cloth" y="-3"/><use href="#ck" x="2" y="2"/></g>
<!-- small icons under device 2 -->
<g transform="translate(580.7 465.2) scale(.772)"><use href="#sq"/><use href="#drop"/><use href="#xm"/></g>
<g transform="translate(663.8 465.2) scale(.772)"><use href="#sq"/><use href="#bubd"/><use href="#cloth" y="1"/><use href="#xm"/></g>
<g transform="translate(746.9 465.2) scale(.772)"><use href="#sq"/><use href="#cloth" y="-3"/><use href="#ck" x="2" y="2"/></g>
</svg>

</div>
</body>
</html>
